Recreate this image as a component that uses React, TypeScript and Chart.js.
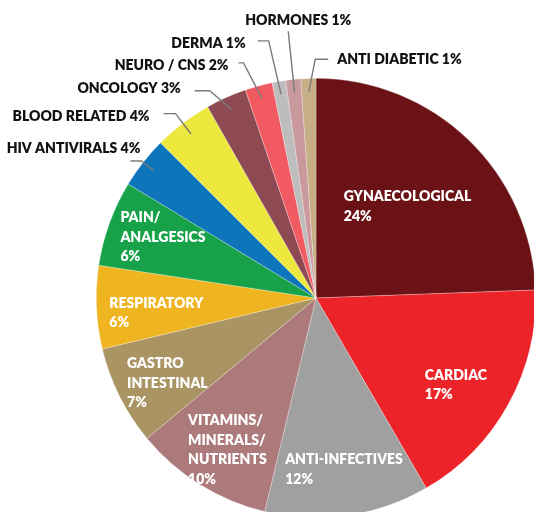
import { useEffect, useRef } from 'react';
import { Chart, registerables } from 'chart.js';

Chart.register(...registerables);

const categories = [
  'GYNAECOLOGICAL',
  'CARDIAC',
  'ANTI-INFECTIVES',
  'VITAMINS/\nMINERALS/\nNUTRIENTS',
  'GASTRO\nINTESTINAL',
  'RESPIRATORY',
  'PAIN/\nANALGESICS',
  'HIV ANTIVIRALS',
  'BLOOD RELATED',
  'ONCOLOGY',
  'NEURO / CNS',
  'DERMA',
  'HORMONES',
  'ANTI DIABETIC',
];

const shares = [24.4, 17.2, 12.1, 10.2, 7.3, 6.1, 6.3, 3.8, 4.3, 3.0, 2.0, 1.0, 1.1, 1.1];

const sliceColors = [
  '#6B1216',
  '#EC242A',
  '#A0A0A0',
  '#AD7A7C',
  '#AB9463',
  '#EFB520',
  '#17A249',
  '#0F75BA',
  '#EDE83E',
  '#8E4A52',
  '#F25A62',
  '#BDBDBD',
  '#C9999E',
  '#C6AE86',
];

type InLayout = { kind: 'in'; r: number; da: number };
type OutLayout = {
  kind: 'out';
  er: number;
  da: number;
  h: number;
  tdx: number;
  tdy: number;
  align: CanvasTextAlign;
};

const labelLayout: (InLayout | OutLayout)[] = [
  { kind: 'in', r: 0.59, da: 1 },
  { kind: 'in', r: 0.75, da: 3 },
  { kind: 'in', r: 0.79, da: -1 },
  { kind: 'in', r: 0.8, da: -1.6 },
  { kind: 'in', r: 0.78, da: -3.3 },
  { kind: 'in', r: 0.73, da: -3 },
  { kind: 'in', r: 0.75, da: 1.8 },
  { kind: 'out', er: 1.01, da: 0, h: -11, tdx: 10, tdy: -13, align: 'right' },
  { kind: 'out', er: 1.055, da: 0, h: -12, tdx: -14, tdy: 3, align: 'right' },
  { kind: 'out', er: 1.06, da: -3, h: -15, tdx: -14, tdy: -2, align: 'right' },
  { kind: 'out', er: 1.12, da: -2, h: -5, tdx: -10, tdy: 3, align: 'right' },
  { kind: 'out', er: 1.19, da: -0.7, h: -11, tdx: -12, tdy: 3, align: 'right' },
  { kind: 'out', er: 1.22, da: 0, h: 0, tdx: 10, tdy: -11, align: 'center' },
  { kind: 'out', er: 1.087, da: 1.8, h: 13, tdx: 9, tdy: 0, align: 'left' },
];

const FONT = '800 14px Lato';
const LINE_H = 19.5;

const labelPlugin = {
  id: 'sliceLabels',
  afterDatasetsDraw(chart: any) {
    const ctx: CanvasRenderingContext2D = chart.ctx;
    const meta = chart.getDatasetMeta(0);
    const data = chart.data.datasets[0].data as number[];
    const total = data.reduce((a, b) => a + b, 0);
    ctx.save();
    ctx.font = FONT;
    ctx.textBaseline = 'middle';
    meta.data.forEach((el: any, i: number) => {
      const { x, y, startAngle, endAngle, outerRadius } = el.getProps(
        ['x', 'y', 'startAngle', 'endAngle', 'outerRadius'],
        true
      );
      const mid = (startAngle + endAngle) / 2;
      const pct = Math.round((data[i] / total) * 100) + '%';
      const lay = labelLayout[i];
      const ang = mid + (lay.da * Math.PI) / 180;
      if (lay.kind === 'in') {
        const ax = x + Math.cos(ang) * outerRadius * lay.r;
        const ay = y + Math.sin(ang) * outerRadius * lay.r;
        const lines = categories[i].split('\n').concat([pct]);
        const maxW = Math.max(...lines.map((l) => ctx.measureText(l).width));
        const left = ax - maxW / 2;
        const top = ay - ((lines.length - 1) * LINE_H) / 2;
        ctx.fillStyle = '#FFFFFF';
        ctx.textAlign = 'left';
        lines.forEach((l, k) => ctx.fillText(l, left, top + k * LINE_H));
      } else {
        const sx = x + Math.cos(mid) * outerRadius * 0.94;
        const sy = y + Math.sin(mid) * outerRadius * 0.94;
        const ex = x + Math.cos(ang) * outerRadius * lay.er;
        const ey = y + Math.sin(ang) * outerRadius * lay.er;
        const hx = ex + lay.h;
        ctx.strokeStyle = '#7A7A7A';
        ctx.lineWidth = 1.4;
        ctx.beginPath();
        ctx.moveTo(sx, sy);
        ctx.lineTo(ex, ey);
        if (lay.h !== 0) ctx.lineTo(hx, ey);
        ctx.stroke();
        ctx.fillStyle = '#111111';
        ctx.textAlign = lay.align;
        ctx.fillText(categories[i].replace(/\n/g, ' ') + ' ' + pct, hx + lay.tdx, ey + lay.tdy);
      }
    });
    ctx.restore();
  },
};

export default function App() {
  const ref = useRef<HTMLCanvasElement | null>(null);
  useEffect(() => {
    if (!ref.current) return;
    const chart = new Chart(ref.current, {
      type: 'pie',
      data: {
        labels: categories.map((c) => c.replace(/\n/g, ' ')),
        datasets: [
          {
            data: shares,
            backgroundColor: sliceColors,
            borderColor: 'rgba(255,255,255,0.45)',
            borderWidth: 0.6,
            hoverOffset: 0,
            offset: 0,
          },
        ],
      },
      options: {
        responsive: false,
        animation: false,
        layout: { padding: { left: 96, top: 78, right: 24, bottom: 22 } },
        plugins: {
          legend: { display: false },
          tooltip: { enabled: false },
        },
      },
      plugins: [labelPlugin],
    });
    return () => chart.destroy();
  }, []);
  return (
    <div
      style={{
        position: 'absolute',
        left: 0,
        top: 0,
        width: 534,
        height: 512,
        overflow: 'hidden',
        background: '#FFFFFF',
      }}
    >
      <canvas ref={ref} width={560} height={540} style={{ width: 560, height: 540, display: 'block' }} />
    </div>
  );
}
